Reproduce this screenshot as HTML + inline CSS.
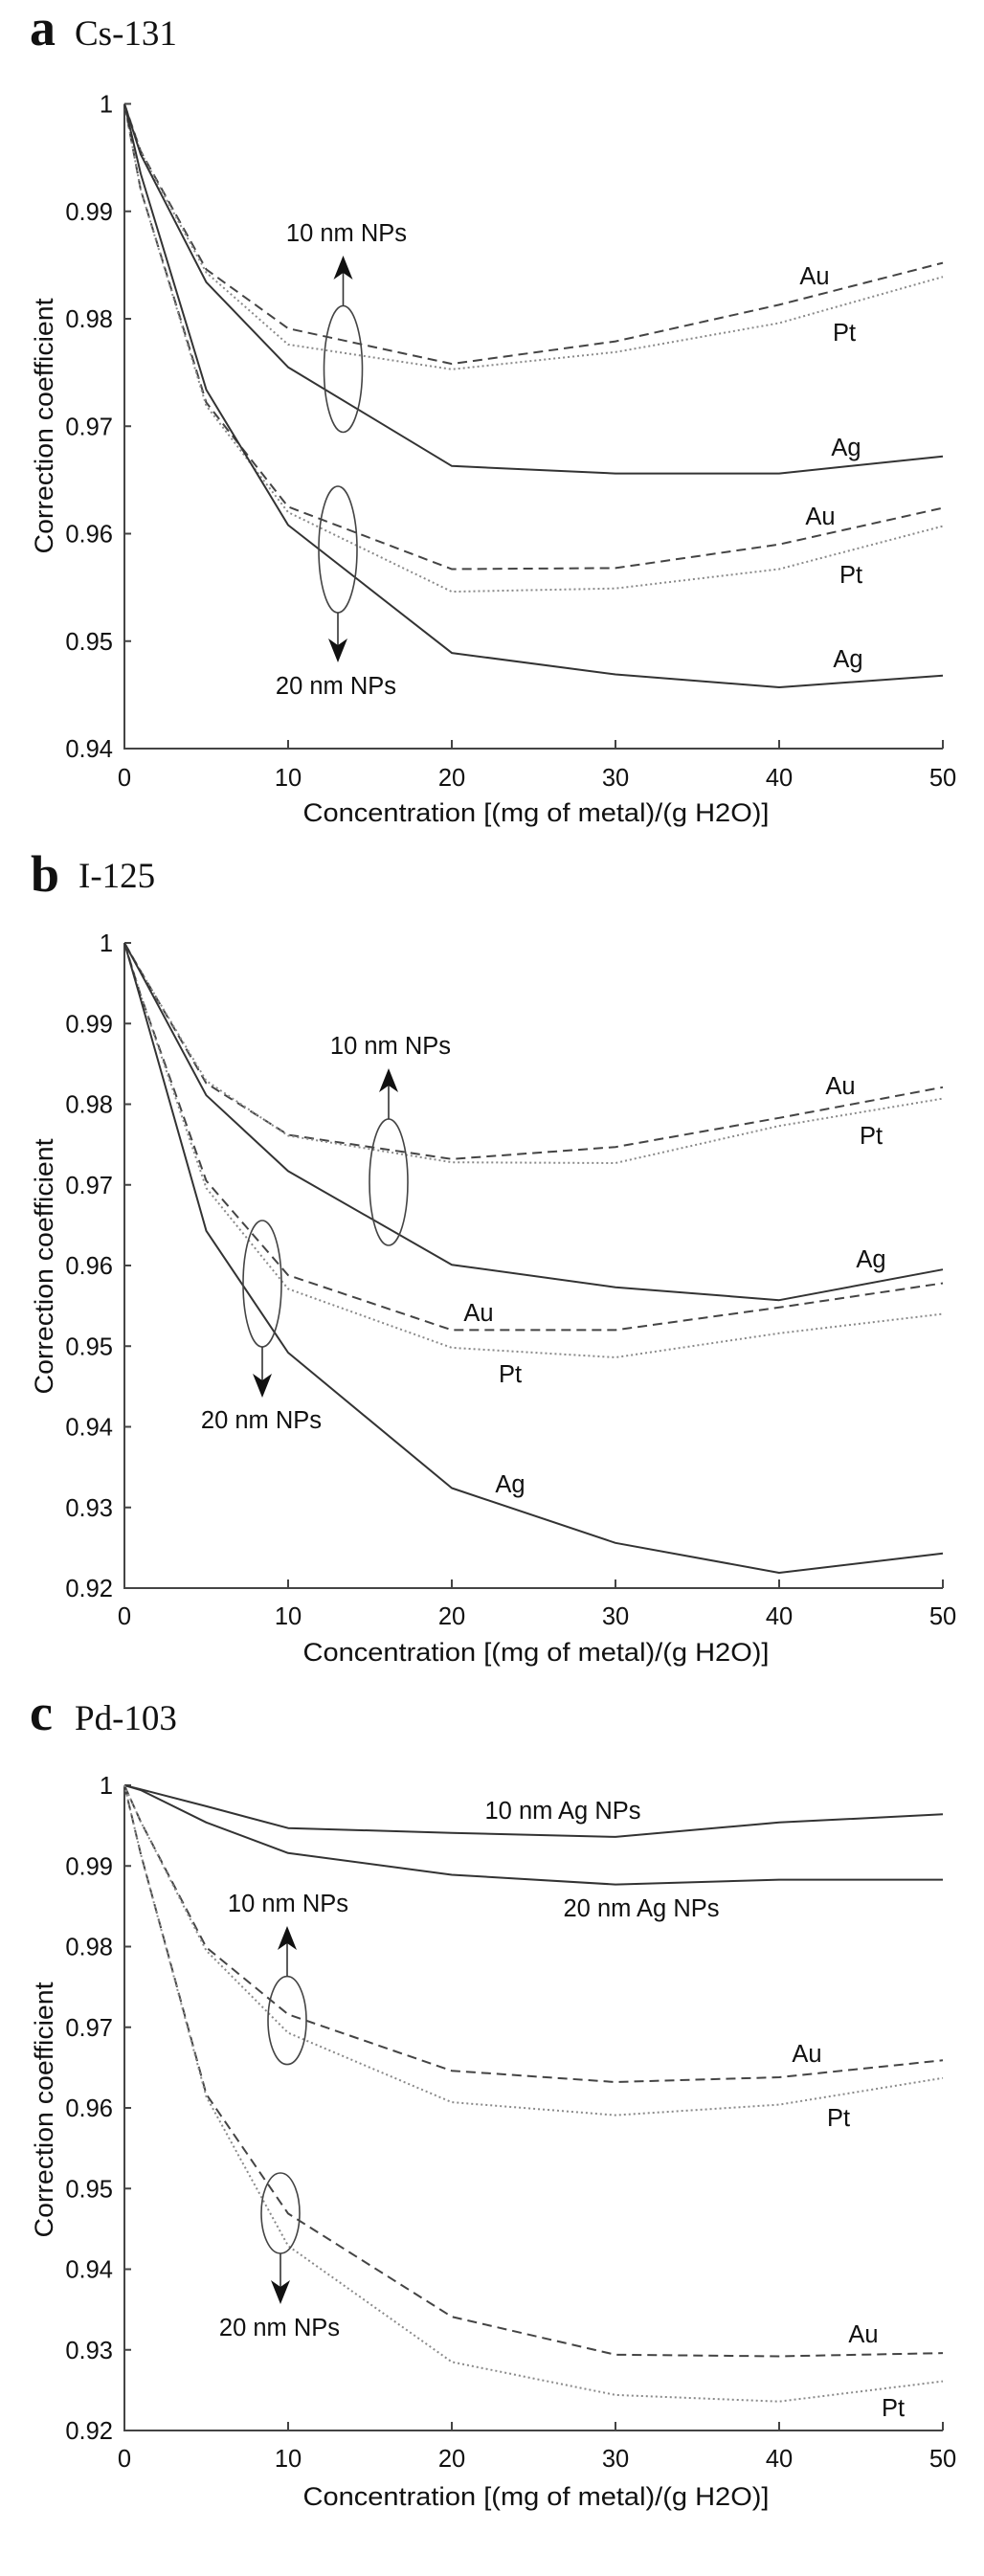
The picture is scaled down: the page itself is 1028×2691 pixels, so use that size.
<!DOCTYPE html>
<html><head><meta charset="utf-8"><style>
html,body{margin:0;padding:0;background:#fff;}
svg{display:block;}
text{font-family:"Liberation Sans",Arial,sans-serif;fill:#111;}
.t{font-family:"Liberation Serif","Times New Roman",serif;}
.tk{font-size:25.5px;}
.ax{stroke:#444;stroke-width:2;fill:none;}
.s{stroke:#333;stroke-width:2;fill:none;stroke-linejoin:round;}
.d{stroke:#444;stroke-width:2;fill:none;stroke-dasharray:10 6;}
.p{stroke:#8a8a8a;stroke-width:2;fill:none;stroke-dasharray:2 3;}
.el{stroke:#444;stroke-width:1.6;fill:none;}
</style></head><body>
<svg width="1028" height="2691" viewBox="0 0 1028 2691" xmlns="http://www.w3.org/2000/svg">
<rect width="1028" height="2691" fill="#fff"/>

<!-- ============ PANEL A ============ -->
<text class="t" x="31" y="47" font-size="54" font-weight="bold">a</text>
<text class="t" x="78" y="47" font-size="37">Cs-131</text>

<path class="ax" d="M130,108.5 V782 H985"/>
<g class="ax">
<path d="M130,108.5h7M130,220.75h7M130,333h7M130,445.25h7M130,557.5h7M130,669.75h7"/>
<path d="M301,782v-9M472,782v-9M643,782v-9M814,782v-9M985,782v-9"/>
</g>
<g class="tk" text-anchor="end">
<text x="118" y="117.5">1</text><text x="118" y="229.75">0.99</text><text x="118" y="342">0.98</text>
<text x="118" y="454.25">0.97</text><text x="118" y="566.5">0.96</text><text x="118" y="678.75">0.95</text><text x="118" y="791">0.94</text>
</g>
<g class="tk" text-anchor="middle">
<text x="130" y="821">0</text><text x="301" y="821">10</text><text x="472" y="821">20</text>
<text x="643" y="821">30</text><text x="814" y="821">40</text><text x="985" y="821">50</text>
</g>
<text x="560" y="858" font-size="27" text-anchor="middle" textLength="487" lengthAdjust="spacingAndGlyphs">Concentration [(mg of metal)/(g H2O)]</text>
<text x="0" y="0" font-size="27" text-anchor="middle" transform="translate(55,445) rotate(-90)" textLength="267" lengthAdjust="spacingAndGlyphs">Correction coefficient</text>

<polyline class="d" points="130,108.5 147,157.9 215.5,281.4 301,343.1 472,380.1 643,356.6 814,318.4 985,274.6"/>
<polyline class="p" points="130,108.5 147,159 215.5,284.7 301,359.9 472,385.8 643,367.8 814,337.5 985,289.2"/>
<polyline class="s" points="130,108.5 147,161.3 215.5,294.8 301,383.6 472,486.8 643,494.6 814,494.6 985,476.7"/>
<polyline class="d" points="130,108.5 147,198.3 215.5,420.5 301,529.4 472,594.5 643,593.4 814,568.7 985,530.6"/>
<polyline class="p" points="130,108.5 147,198.3 215.5,423.9 301,535.1 472,618.1 643,614.7 814,594.5 985,549.6"/>
<polyline class="s" points="130,108.5 147,181.5 215.5,407.1 301,548.5 472,682.1 643,704.5 814,718 985,705.7"/>

<ellipse class="el" cx="358.5" cy="385.5" rx="20" ry="66"/>
<line x1="358.5" y1="319.5" x2="358.5" y2="282" stroke="#333" stroke-width="1.6"/>
<polygon points="358.5,267 348.5,292 358.5,285 368.5,292" fill="#111"/>
<ellipse class="el" cx="353" cy="574" rx="20" ry="66"/>
<line x1="353" y1="640" x2="353" y2="677" stroke="#333" stroke-width="1.6"/>
<polygon points="353,692 343,667 353,674 363,667" fill="#111"/>
<g class="tk" text-anchor="middle">
<text x="362" y="252">10 nm NPs</text>
<text x="351" y="725">20 nm NPs</text>
<text x="851" y="297">Au</text><text x="882" y="356">Pt</text><text x="884" y="476">Ag</text>
<text x="857" y="548">Au</text><text x="889" y="609">Pt</text><text x="886" y="697">Ag</text>
</g>

<!-- ============ PANEL B ============ -->
<text class="t" x="32" y="931" font-size="54" font-weight="bold">b</text>
<text class="t" x="82" y="927" font-size="37">I-125</text>

<path class="ax" d="M130,985 V1659 H985"/>
<g class="ax">
<path d="M130,985h7M130,1069.25h7M130,1153.5h7M130,1237.75h7M130,1322h7M130,1406.25h7M130,1490.5h7M130,1574.75h7"/>
<path d="M301,1659v-9M472,1659v-9M643,1659v-9M814,1659v-9M985,1659v-9"/>
</g>
<g class="tk" text-anchor="end">
<text x="118" y="994">1</text><text x="118" y="1078.25">0.99</text><text x="118" y="1162.5">0.98</text>
<text x="118" y="1246.75">0.97</text><text x="118" y="1331">0.96</text><text x="118" y="1415.25">0.95</text>
<text x="118" y="1499.5">0.94</text><text x="118" y="1583.75">0.93</text><text x="118" y="1668">0.92</text>
</g>
<g class="tk" text-anchor="middle">
<text x="130" y="1697">0</text><text x="301" y="1697">10</text><text x="472" y="1697">20</text>
<text x="643" y="1697">30</text><text x="814" y="1697">40</text><text x="985" y="1697">50</text>
</g>
<text x="560" y="1735" font-size="27" text-anchor="middle" textLength="487" lengthAdjust="spacingAndGlyphs">Concentration [(mg of metal)/(g H2O)]</text>
<text x="0" y="0" font-size="27" text-anchor="middle" transform="translate(55,1323) rotate(-90)" textLength="267" lengthAdjust="spacingAndGlyphs">Correction coefficient</text>

<polyline class="d" points="130,985 147,1014.5 215.5,1131.6 301,1185.5 472,1210.8 643,1198.2 814,1167.8 985,1135.8"/>
<polyline class="p" points="130,985 147,1014.5 215.5,1129.1 301,1186.4 472,1214.2 643,1215 814,1176.2 985,1147.6"/>
<polyline class="s" points="130,985 147,1016.2 215.5,1144.2 301,1223.4 472,1321.2 643,1344.7 814,1358.2 985,1326.2"/>
<polyline class="d" points="130,985 147,1039.8 215.5,1233.5 301,1332.1 472,1389.4 643,1389.4 814,1365.8 985,1340.5"/>
<polyline class="p" points="130,985 147,1039.8 215.5,1241.1 301,1346.4 472,1407.9 643,1418 814,1392.8 985,1372.6"/>
<polyline class="s" points="130,985 147,1044 215.5,1285.8 301,1413 472,1554.5 643,1611.8 814,1643 985,1622.8"/>

<ellipse class="el" cx="406" cy="1235" rx="20" ry="66"/>
<line x1="406" y1="1169" x2="406" y2="1131" stroke="#333" stroke-width="1.6"/>
<polygon points="406,1116 396,1141 406,1134 416,1141" fill="#111"/>
<ellipse class="el" cx="274" cy="1341" rx="20" ry="66"/>
<line x1="274" y1="1407" x2="274" y2="1445" stroke="#333" stroke-width="1.6"/>
<polygon points="274,1460 264,1435 274,1442 284,1435" fill="#111"/>
<g class="tk" text-anchor="middle">
<text x="408" y="1101">10 nm NPs</text>
<text x="273" y="1492">20 nm NPs</text>
<text x="878" y="1143">Au</text><text x="910" y="1195">Pt</text><text x="910" y="1324">Ag</text>
<text x="500" y="1380">Au</text><text x="533" y="1444">Pt</text><text x="533" y="1559">Ag</text>
</g>

<!-- ============ PANEL C ============ -->
<text class="t" x="31" y="1807" font-size="54" font-weight="bold">c</text>
<text class="t" x="78" y="1807" font-size="37">Pd-103</text>

<path class="ax" d="M130,1865 V2539 H985"/>
<g class="ax">
<path d="M130,1865h7M130,1949.25h7M130,2033.5h7M130,2117.75h7M130,2202h7M130,2286.25h7M130,2370.5h7M130,2454.75h7"/>
<path d="M301,2539v-9M472,2539v-9M643,2539v-9M814,2539v-9M985,2539v-9"/>
</g>
<g class="tk" text-anchor="end">
<text x="118" y="1874">1</text><text x="118" y="1958.25">0.99</text><text x="118" y="2042.5">0.98</text>
<text x="118" y="2126.75">0.97</text><text x="118" y="2211">0.96</text><text x="118" y="2295.25">0.95</text>
<text x="118" y="2379.5">0.94</text><text x="118" y="2463.75">0.93</text><text x="118" y="2548">0.92</text>
</g>
<g class="tk" text-anchor="middle">
<text x="130" y="2577">0</text><text x="301" y="2577">10</text><text x="472" y="2577">20</text>
<text x="643" y="2577">30</text><text x="814" y="2577">40</text><text x="985" y="2577">50</text>
</g>
<text x="560" y="2617" font-size="27" text-anchor="middle" textLength="487" lengthAdjust="spacingAndGlyphs">Concentration [(mg of metal)/(g H2O)]</text>
<text x="0" y="0" font-size="27" text-anchor="middle" transform="translate(55,2204) rotate(-90)" textLength="267" lengthAdjust="spacingAndGlyphs">Correction coefficient</text>

<polyline class="s" points="130,1865 147,1869.2 215.5,1886.9 301,1909.7 472,1914.7 643,1918.9 814,1903.8 985,1895.3"/>
<polyline class="s" points="130,1865 147,1870 215.5,1903.8 301,1935.8 472,1958.5 643,1968.6 814,1963.6 985,1963.6"/>
<polyline class="d" points="130,1865 147,1902.9 215.5,2034.3 301,2104.3 472,2163.2 643,2175 814,2170 985,2152.3"/>
<polyline class="p" points="130,1865 147,1902.9 215.5,2037.7 301,2123.6 472,2196.1 643,2209.6 814,2198.6 985,2170.8"/>
<polyline class="d" points="130,1865 147,1936.6 215.5,2187.7 301,2312.4 472,2420.2 643,2459.8 814,2461.5 985,2458.1"/>
<polyline class="p" points="130,1865 147,1936.6 215.5,2190.2 301,2346.1 472,2467.4 643,2501.9 814,2508.7 985,2487.6"/>

<ellipse class="el" cx="300" cy="2110.6" rx="20" ry="46"/>
<line x1="300" y1="2064.6" x2="300" y2="2027" stroke="#333" stroke-width="1.6"/>
<polygon points="300,2012 290,2037 300,2030 310,2037" fill="#111"/>
<ellipse class="el" cx="293" cy="2312" rx="20" ry="42"/>
<line x1="293" y1="2354" x2="293" y2="2392" stroke="#333" stroke-width="1.6"/>
<polygon points="293,2407 283,2382 293,2389 303,2382" fill="#111"/>
<g class="tk" text-anchor="middle">
<text x="588" y="1900">10 nm Ag NPs</text>
<text x="670" y="2002">20 nm Ag NPs</text>
<text x="301" y="1997">10 nm NPs</text>
<text x="292" y="2440">20 nm NPs</text>
<text x="843" y="2154">Au</text><text x="876" y="2221">Pt</text>
<text x="902" y="2447">Au</text><text x="933" y="2524">Pt</text>
</g>
</svg>
</body></html>
